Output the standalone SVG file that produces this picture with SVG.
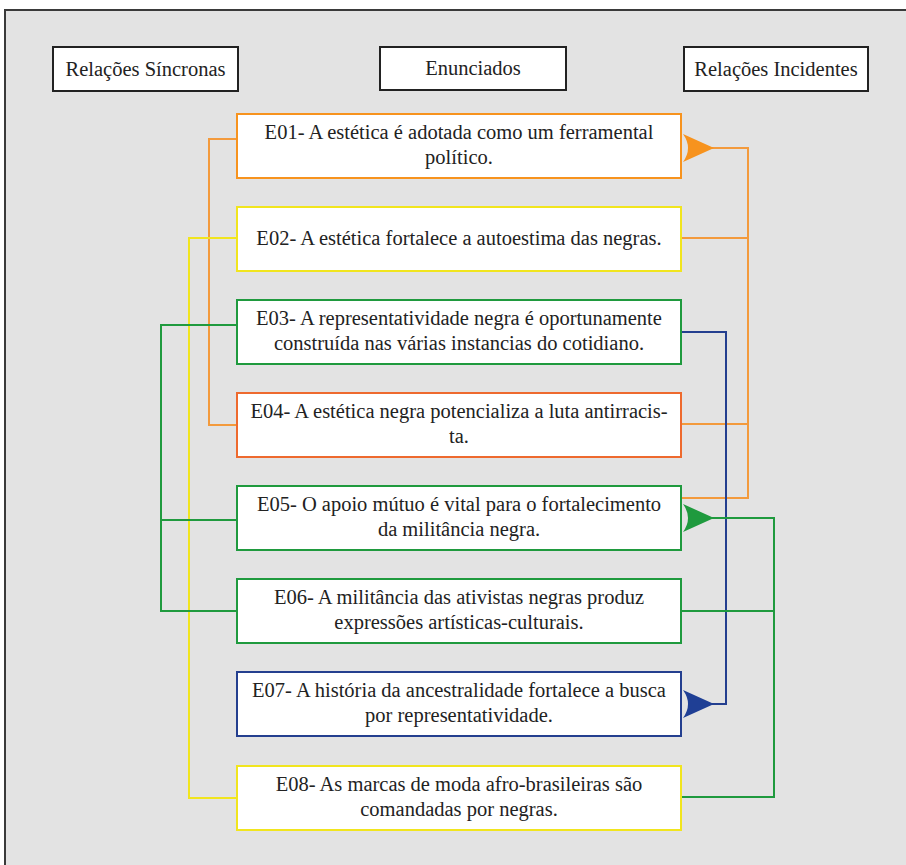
<svg xmlns="http://www.w3.org/2000/svg" width="906" height="865" viewBox="0 0 906 865" font-family="'Liberation Serif', 'DejaVu Serif', serif">
<style>
  .bg { fill: #e3e3e3; stroke: #3a3a3a; stroke-width: 2; }
  .box { fill: #ffffff; stroke-width: 2; }
  .hdr { fill: #ffffff; stroke: #222; stroke-width: 2; }
  .t { font-family: 'Liberation Serif', 'DejaVu Serif', serif; font-size: 20.5px; fill: #222; text-anchor: middle; }
  .ln { fill: none; stroke-width: 2; }
  .or { stroke: #f39a3c; }
  .ye { stroke: #f1e51e; }
  .gr { stroke: #1f9a3e; }
  .bl { stroke: #243f8f; }
</style>
<defs>
  <path id="ah" d="M0,0 L-31,-14 Q-21,0 -31,14 Z"/>
</defs>
<rect x="0" y="0" width="906" height="865" fill="#ffffff"/>
<rect class="bg" x="5" y="10" width="915" height="880"/>

<g id="connectors">
  <polyline class="ln or" points="237,139 209,139 209,425 237,425"/>
  <polyline class="ln ye" points="237,238 189,238 189,798 237,798"/>
  <polyline class="ln gr" points="237,325 161,325 161,611 237,611"/>
  <line class="ln gr" x1="161" y1="520" x2="237" y2="520"/>
  <polyline class="ln or" points="712,148 748,148 748,498 681,498"/>
  <line class="ln or" x1="681" y1="238" x2="748" y2="238"/>
  <line class="ln or" x1="681" y1="424" x2="748" y2="424"/>
  <use href="#ah" transform="translate(714,148)" fill="#f7931e"/>
  <polyline class="ln bl" points="681,332 726,332 726,704 712,704"/>
  <use href="#ah" transform="translate(714,704)" fill="#1f3f95"/>
  <polyline class="ln gr" points="712,518 774,518 774,797 681,797"/>
  <line class="ln gr" x1="681" y1="611" x2="774" y2="611"/>
  <use href="#ah" transform="translate(714,518)" fill="#1f9a3e"/>
</g>

<g id="h1"><rect class="hdr" x="53" y="47" width="185" height="44"/><text class="t" x="145.5" y="76">Relações Síncronas</text></g>
<g id="h2"><rect class="hdr" x="380" y="47" width="186" height="43"/><text class="t" x="473" y="75">Enunciados</text></g>
<g id="h3"><rect class="hdr" x="684" y="47" width="184" height="44"/><text class="t" x="776" y="76">Relações Incidentes</text></g>

<g id="E01"><rect class="box" x="237" y="114" width="444" height="64" stroke="#f7931e"/>
  <text class="t" x="459" y="139">E01- A estética é adotada como um ferramental</text><text class="t" x="459" y="164">político.</text></g>
<g id="E02"><rect class="box" x="237" y="207" width="444" height="64" stroke="#f1e51e"/>
  <text class="t" x="459" y="245">E02- A estética fortalece a autoestima das negras.</text></g>
<g id="E03"><rect class="box" x="237" y="300" width="444" height="64" stroke="#1f9a3e"/>
  <text class="t" x="459" y="325">E03- A representatividade negra é oportunamente</text><text class="t" x="459" y="350">construída nas várias instancias do cotidiano.</text></g>
<g id="E04"><rect class="box" x="237" y="393" width="444" height="64" stroke="#ee6a2e"/>
  <text class="t" x="459" y="418">E04- A estética negra potencializa a luta antirracis-</text><text class="t" x="459" y="443">ta.</text></g>
<g id="E05"><rect class="box" x="237" y="486" width="444" height="64" stroke="#1f9a3e"/>
  <text class="t" x="459" y="511">E05- O apoio mútuo é vital para o fortalecimento</text><text class="t" x="459" y="536">da militância negra.</text></g>
<g id="E06"><rect class="box" x="237" y="579" width="444" height="64" stroke="#1f9a3e"/>
  <text class="t" x="459" y="604">E06- A militância das ativistas negras produz</text><text class="t" x="459" y="629">expressões artísticas-culturais.</text></g>
<g id="E07"><rect class="box" x="237" y="672" width="444" height="64" stroke="#243f8f"/>
  <text class="t" x="459" y="697">E07- A história da ancestralidade fortalece a busca</text><text class="t" x="459" y="722">por representatividade.</text></g>
<g id="E08"><rect class="box" x="237" y="766" width="444" height="64" stroke="#f1e51e"/>
  <text class="t" x="459" y="791">E08- As marcas de moda afro-brasileiras são</text><text class="t" x="459" y="816">comandadas por negras.</text></g>
</svg>
